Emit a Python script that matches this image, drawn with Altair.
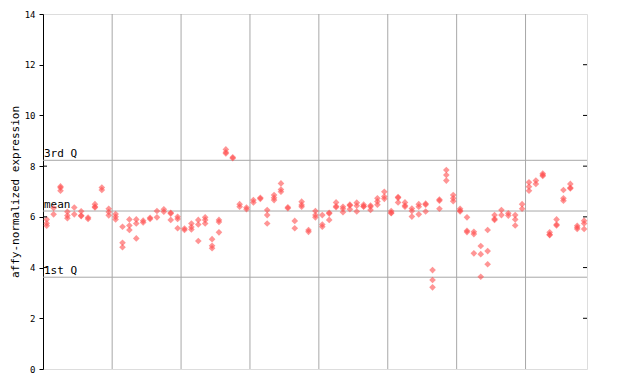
import altair as alt
import pandas as pd

# replicate expression values per sample (sample index = position in list)
expression = [
    [5.9, 5.75, 5.65], [6.35, 6.1], [7.2, 7.15, 7.03], [6.2, 6.05, 5.95], [6.37, 6.1],
    [6.22, 6.05, 6.03], [5.97, 5.92], [6.5, 6.4, 6.37], [7.16, 7.06], [6.32, 6.19, 6.06],
    [6.11, 6.0, 5.9], [5.61, 4.98, 4.8], [5.9, 5.66, 5.48], [5.9, 5.74, 5.15], [5.85, 5.78],
    [5.96, 5.92], [6.23, 5.98], [6.3, 6.2], [6.16, 6.13, 5.88], [6.0, 5.92, 5.55],
    [5.54, 5.48], [5.74, 5.6, 5.5], [5.88, 5.7, 5.05], [5.98, 5.88, 5.74], [5.12, 4.86, 4.76],
    [5.88, 5.8, 5.39], [8.66, 8.55, 8.5], [8.35, 8.31], [6.5, 6.4], [6.37, 6.3],
    [6.66, 6.57], [6.75, 6.71], [6.27, 6.07, 5.74], [6.86, 6.75, 6.66], [7.32, 7.08, 6.99],
    [6.38, 6.34], [5.84, 5.55], [6.6, 6.47, 6.4], [5.48, 5.41], [6.23, 6.07, 5.98],
    [6.07, 5.7, 5.61], [6.16, 6.13, 5.88], [6.57, 6.42, 6.38], [6.4, 6.32, 6.18], [6.48, 6.45, 6.3],
    [6.56, 6.44, 6.21], [6.48, 6.42, 6.4], [6.45, 6.4, 6.27], [6.73, 6.61, 6.48], [6.99, 6.8, 6.71],
    [6.23, 6.16, 6.14], [6.78, 6.75, 6.57], [6.57, 6.45, 6.4], [6.33, 6.23, 6.01], [6.5, 6.4, 6.1],
    [6.52, 6.48, 6.21], [3.9, 3.51, 3.22], [6.68, 6.64, 6.32], [7.85, 7.65, 7.43], [6.86, 6.73, 6.62],
    [6.32, 6.25, 6.21], [5.98, 5.45, 5.4], [5.41, 5.32, 4.56], [4.85, 4.53, 3.64], [5.48, 4.65, 4.13],
    [6.07, 5.92, 5.88], [6.27, 6.07], [6.14, 6.05], [6.07, 5.9, 5.66], [6.5, 6.32],
    [7.36, 7.19, 7.03], [7.43, 7.3], [7.71, 7.65, 7.61], [5.39, 5.3, 5.28], [5.9, 5.7, 5.66],
    [7.06, 6.73, 6.64], [7.3, 7.15, 7.12], [5.65, 5.58, 5.52], [5.85, 5.74, 5.52],
]

group_breaks = [9.5, 19.5, 29.5, 39.5, 49.5, 59.5, 69.5]
stat_names = ["3rd Q", "mean", "1st Q"]
stat_values = [8.23, 6.23, 3.62]
y_ticks = [0, 2, 4, 6, 8, 10, 12, 14]
right_ticks = [2, 4, 6, 8, 10, 12]
left_inner_ticks = [4, 6, 8]

rows = []
for i, reps in enumerate(expression):
    for v in reps:
        rows.append({"sample": i, "value": v})
points_df = pd.DataFrame(rows)

W, H = 544, 355
MONO = "DejaVu Sans Mono"
RED = "#ff4f4f"
GRID = "#a8a8a8"

xscale = alt.Scale(domain=[-0.54, 78.42], nice=False, zero=False)
yscale = alt.Scale(domain=[0, 14], nice=False, zero=False)

yaxis = alt.Axis(
    values=y_ticks, grid=False, tickSize=4, tickColor="black", domainColor="black",
    labelFont=MONO, labelFontSize=9, labelColor="black", labelPadding=4,
    title="affy-normalized expression", titleFont=MONO, titleFontSize=11,
    titleFontWeight="normal", titleColor="black", titleAngle=-90,
    titleAlign="center", titleBaseline="middle", titleX=-28, titleY=H / 2,
)

vgrid = alt.Chart(pd.DataFrame({"x": group_breaks})).mark_rule(
    color=GRID, strokeWidth=1
).encode(x=alt.X("x:Q", scale=xscale, axis=None))

stats_df = pd.DataFrame({"name": stat_names, "v": stat_values})
hlines = alt.Chart(stats_df).mark_rule(color=GRID, strokeWidth=1).encode(
    y=alt.Y("v:Q", scale=yscale, axis=yaxis)
)
hlabels = alt.Chart(stats_df).mark_text(
    align="left", baseline="bottom", dx=0, dy=-1, font=MONO, fontSize=11, color="black"
).encode(
    x=alt.value(1), y=alt.Y("v:Q", scale=yscale), text="name:N"
)

pts = alt.Chart(points_df).mark_point(
    shape="diamond", filled=True, size=44, color=RED, opacity=0.6, strokeWidth=0
).encode(
    x=alt.X("sample:Q", scale=xscale, axis=None),
    y=alt.Y("value:Q", scale=yscale),
)

rticks = alt.Chart(pd.DataFrame({"t": right_ticks})).mark_rule(color="black").encode(
    y=alt.Y("t:Q", scale=yscale), x=alt.value(W - 4), x2=alt.value(W)
)
lticks = alt.Chart(pd.DataFrame({"t": left_inner_ticks})).mark_rule(color="black").encode(
    y=alt.Y("t:Q", scale=yscale), x=alt.value(0), x2=alt.value(4)
)

chart = alt.layer(vgrid, hlines, hlabels, pts, rticks, lticks).properties(
    width=W, height=H,
    autosize=alt.AutoSizeParams(type="none"),
    padding={"left": 35, "top": 6, "right": 45, "bottom": 7},
).configure_view(stroke="black", strokeWidth=1).configure(background="white")

chart.save("out.html", embed_options={"renderer": "svg", "actions": False})
